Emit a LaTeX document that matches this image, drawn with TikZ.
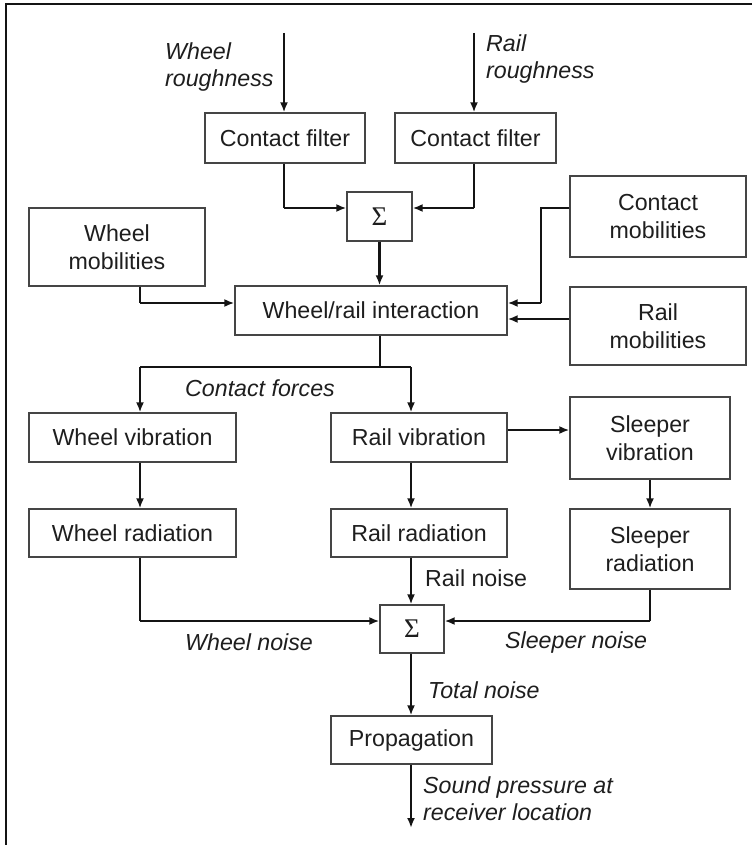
\documentclass[tikz,border=0pt]{standalone}
\usepackage{fontspec}
\setmainfont{Liberation Sans}
\newfontfamily\sigmafont{Liberation Serif}
\usepackage{tikz}
\usetikzlibrary{arrows.meta, positioning, calc}
\usepackage{xcolor}

\definecolor{ink}{HTML}{141414}
\definecolor{boxgray}{HTML}{454545}
\definecolor{txt}{HTML}{1E1E1E}

\newcommand{\boxfont}{\fontsize{23.2}{28}\selectfont}
\newcommand{\notefont}{\fontsize{23.2}{27}\selectfont\itshape}
\newcommand{\sumsign}{{\sigmafont\fontsize{27}{27}\selectfont Σ}}

\tikzset{
  box/.style={draw=boxgray, line width=1.3pt, fill=white, text=txt, align=center, inner sep=2pt, font=\boxfont},
  flow/.style={draw=ink, line width=2.4pt, -{Latex[length=10pt,width=8pt]}},
  wire/.style={draw=ink, line width=1.4pt},
  note/.style={text=txt, inner sep=0pt, align=left, font=\notefont}
}

\begin{document}
\begin{tikzpicture}[x=1pt, y=-1pt]
                \useasboundingbox (0,0) rectangle (752,845);
                \draw[ink, line width=1.6pt] (752,4) -- (6,4) -- (6,845);

                % blocks
                \node[box, minimum width=160pt, minimum height=50pt] (cfw) at (285,138) {Contact filter};
                \node[box, minimum width=161pt, minimum height=50pt] (cfr) at (475.5,138) {Contact filter};
                \node[box, minimum width=65pt, minimum height=49pt] (sumin) at (379.5,216.5) {\sumsign};
                \node[box, minimum width=176pt, minimum height=78pt] (wmob) at (117,247) {Wheel\\mobilities};
                \node[box, minimum width=176pt, minimum height=81pt] (cmob) at (658,216.5) {Contact\\mobilities};
                \node[box, minimum width=272pt, minimum height=49pt] (wri) at (371,310.5) {Wheel/rail interaction};
                \node[box, minimum width=176pt, minimum height=78pt] (rmob) at (658,326) {Rail\\mobilities};
                \node[box, minimum width=207pt, minimum height=49pt] (wvib) at (132.5,437.5) {Wheel vibration};
                \node[box, minimum width=176pt, minimum height=49pt] (rvib) at (419,437.5) {Rail vibration};
                \node[box, minimum width=160pt, minimum height=82pt] (svib) at (650,438) {Sleeper\\vibration};
                \node[box, minimum width=207pt, minimum height=48pt] (wrad) at (132.5,533) {Wheel radiation};
                \node[box, minimum width=176pt, minimum height=48pt] (rrad) at (419,533) {Rail radiation};
                \node[box, minimum width=160pt, minimum height=80pt] (srad) at (650,549) {Sleeper\\radiation};
                \node[box, minimum width=64pt, minimum height=48pt] (sumout) at (412,629) {\sumsign};
                \node[box, minimum width=161pt, minimum height=48pt] (prop) at (411.5,740) {Propagation};

                % junction points
                \coordinate (wrin) at (284,33);
                \coordinate (rrin) at (474,33);
                \coordinate (jw) at (284,208);
                \coordinate (jr) at (474,208);
                \coordinate (jwm) at (140,303);
                \coordinate (cm1) at (541,208);
                \coordinate (cm2) at (541,303);
                \coordinate (rmy) at (0,319);
                \coordinate (split) at (380,367);
                \coordinate (splitw) at (140,367);
                \coordinate (splitr) at (411,367);
                \coordinate (rsy) at (0,430);
                \coordinate (jwn) at (140,621);
                \coordinate (jsn) at (650,621);
                \coordinate (out) at (411,828);

                % roughness in
                \draw[flow] (wrin) -- (wrin |- cfw.north);
                \draw[flow] (rrin) -- (rrin |- cfr.north);
                \draw[wire] (jw |- cfw.south) -- (jw);
                \draw[flow] (jw) -- (jw -| sumin.west);
                \draw[wire] (jr |- cfr.south) -- (jr);
                \draw[flow] (jr) -- (jr -| sumin.east);
                \draw[flow] (sumin.south) -- (sumin.south |- wri.north);

                % mobilities
                \draw[wire] (jwm |- wmob.south) -- (jwm);
                \draw[flow] (jwm) -- (jwm -| wri.west);
                \draw[wire] (cm1 -| cmob.west) -- (cm1) -- (cm2);
                \draw[flow] (cm2) -- (cm2 -| wri.east);
                \draw[flow] (rmob.west |- rmy) -- (wri.east |- rmy);

                % contact forces
                \draw[wire] (split |- wri.south) -- (split);
                \draw[wire] (splitw) -- (splitr);
                \draw[flow] (splitw) -- (splitw |- wvib.north);
                \draw[flow] (splitr) -- (splitr |- rvib.north);

                \draw[flow] (rvib.east |- rsy) -- (svib.west |- rsy);
                \draw[flow] (splitw |- wvib.south) -- (splitw |- wrad.north);
                \draw[flow] (splitr |- rvib.south) -- (splitr |- rrad.north);
                \draw[flow] (svib.south) -- (srad.north);

                % noise sum
                \draw[wire] (jwn |- wrad.south) -- (jwn);
                \draw[flow] (jwn) -- (jwn -| sumout.west);
                \draw[flow] (splitr |- rrad.south) -- (splitr |- sumout.north);
                \draw[wire] (srad.south) -- (jsn);
                \draw[flow] (jsn) -- (jsn -| sumout.east);
                \draw[flow] (splitr |- sumout.south) -- (splitr |- prop.north);
                \draw[flow] (splitr |- prop.south) -- (out);

                % labels
                \node[note, anchor=west] (lwr) at (165,67) {Wheel\\roughness};
                \node[note, anchor=west] (lrr) at (486,59) {Rail\\roughness};
                \node[note, anchor=west] (lcf) at (185,388) {Contact forces};
                \node[note, anchor=west, font=\boxfont] (lrn) at (425,578) {Rail noise};
                \node[note, anchor=west] (lwn) at (185,642) {Wheel noise};
                \node[note, anchor=west] (lsn) at (505,642) {Sleeper noise};
                \node[note, anchor=west] (ltn) at (428,690) {Total noise};
                \node[note, anchor=west] (lsp) at (423,799) {Sound pressure at\\receiver location};
\end{tikzpicture}
\end{document}
